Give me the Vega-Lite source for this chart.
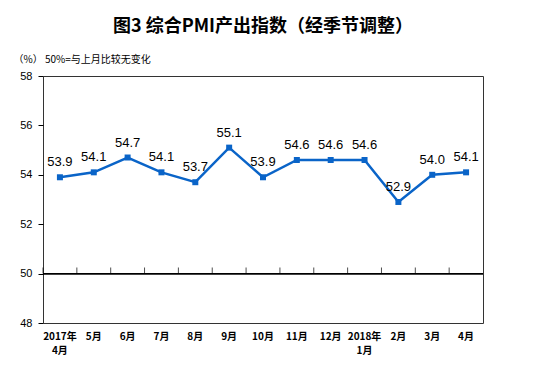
{
  "$schema": "https://vega.github.io/schema/vega-lite/v6.json",
  "width": 440,
  "height": 247,
  "autosize": {"type": "none"},
  "padding": {"left": 43, "top": 76, "right": 70, "bottom": 67},
  "background": "white",
  "title": {
    "text": "图3 综合PMI产出指数（经季节调整）",
    "font": "Noto Sans CJK SC",
    "fontSize": 18,
    "fontWeight": "bold",
    "color": "#000000",
    "anchor": "middle",
    "offset": 18
  },
  "config": {
    "view": {"stroke": "#333333", "strokeWidth": 1},
    "axis": {"grid": false, "labelColor": "#000000", "labelFont": "Liberation Sans", "labelFontSize": 11}
  },
  "data": {
    "values": [
      {"month": "2017年 4月", "value": 53.9},
      {"month": "5月", "value": 54.1},
      {"month": "6月", "value": 54.7},
      {"month": "7月", "value": 54.1},
      {"month": "8月", "value": 53.7},
      {"month": "9月", "value": 55.1},
      {"month": "10月", "value": 53.9},
      {"month": "11月", "value": 54.6},
      {"month": "12月", "value": 54.6},
      {"month": "2018年 1月", "value": 54.6},
      {"month": "2月", "value": 52.9},
      {"month": "3月", "value": 54.0},
      {"month": "4月", "value": 54.1}
    ]
  },
  "encoding": {
    "x": {
      "field": "month",
      "type": "nominal",
      "sort": null,
      "scale": {"type": "band", "paddingInner": 0, "paddingOuter": 0},
      "axis": {
        "title": null,
        "labelAngle": 0,
        "ticks": false,
        "domain": false,
        "labelPadding": 8,
        "labelFont": "Noto Sans CJK SC",
        "labelFontSize": 10,
        "labelFontWeight": "bold",
        "labelLineHeight": 14,
        "labelBaseline": "top",
        "labelExpr": "split(datum.value, ' ')"
      }
    }
  },
  "layer": [
    {
      "mark": {"type": "rule", "color": "#000000", "strokeWidth": 1},
      "encoding": {
        "x": null,
        "y": {"datum": 50, "type": "quantitative", "scale": {"domain": [48, 58]}}
      }
    },
    {
      "mark": {"type": "tick", "orient": "vertical", "color": "#000000", "thickness": 1, "size": 6, "yOffset": -3},
      "encoding": {
        "x": {"field": "month", "type": "nominal", "sort": null, "bandPosition": 0},
        "y": {"datum": 50, "type": "quantitative"}
      }
    },
    {
      "mark": {"type": "line", "color": "#0a64c8", "strokeWidth": 2.5, "point": {"shape": "square", "size": 36, "color": "#0a64c8", "filled": true}},
      "encoding": {
        "y": {
          "field": "value",
          "type": "quantitative",
          "scale": {"domain": [48, 58], "zero": false, "nice": false},
          "axis": {
            "values": [48, 50, 52, 54, 56, 58],
            "title": "（%）  50%=与上月比较无变化",
            "titleAngle": 0,
            "titleAlign": "left",
            "titleBaseline": "middle",
            "titleX": -30,
            "titleY": -17,
            "titleFont": "Noto Sans CJK SC",
            "titleFontSize": 10,
            "titleFontWeight": "normal",
            "titleColor": "#000000",
            "domain": false,
            "tickColor": "#000000",
            "tickSize": 5,
            "labelPadding": 6
          }
        }
      }
    },
    {
      "mark": {"type": "text", "dy": -15, "font": "Liberation Sans", "fontSize": 13, "color": "#000000"},
      "encoding": {
        "y": {"field": "value", "type": "quantitative"},
        "text": {"field": "value", "type": "quantitative", "format": ".1f"}
      }
    }
  ]
}
